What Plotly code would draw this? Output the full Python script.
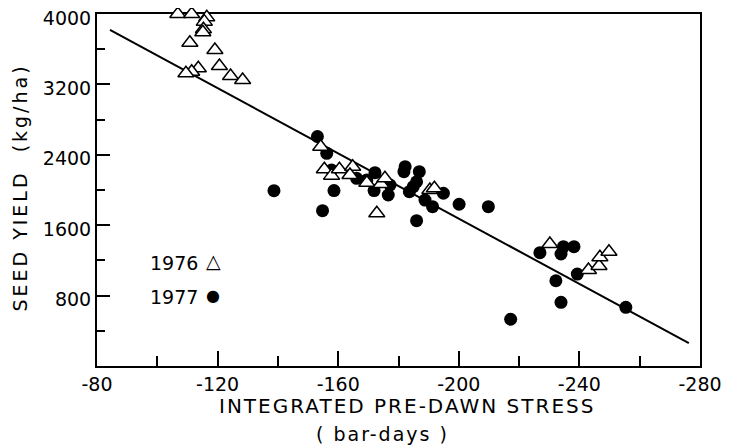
import plotly.graph_objects as go

# 1976 season (open triangles)
x1976 = [-106.8, -111.4, -116.4, -115.6, -115.3, -115.1, -110.8, -119.1, -120.6, -124.3,
         -128.3, -113.6, -111.4, -109.5,
         -154.2, -155.4, -157.8, -160.4, -164.8, -163.9, -169.5, -174.2, -175.5, -172.8,
         -190.4, -191.9,
         -230.2, -243.0, -246.5, -246.8, -249.8]
y1976 = [4000, 4000, 3962, 3913, 3826, 3792, 3674, 3591, 3409, 3295,
         3250, 3383, 3344, 3326,
         2492, 2235, 2163, 2235, 2265, 2170, 2083, 2068, 2133, 1735,
         2000, 2019,
         1386, 1091, 1136, 1235, 1299]

# 1977 season (filled circles)
x1977 = [-153.1, -156.2, -157.8, -158.6, -154.8, -138.7, -166.1, -169.5, -172.2, -171.9,
         -176.6, -177.2, -182.2, -181.8, -186.9, -186.0, -184.9, -183.6, -188.8, -191.3,
         -194.9, -200.1, -209.8, -186.0,
         -226.9, -234.7, -233.9, -238.2, -232.2, -239.3, -233.9, -217.2, -255.4]
y1977 = [2608, 2417, 2227, 1994, 1765, 1992, 2133, 2114, 2197, 1994,
         1943, 2057, 2265, 2208, 2208, 2094, 2038, 1981, 1886, 1810,
         1963, 1838, 1810, 1651,
         1288, 1356, 1273, 1356, 969, 1045, 724, 531, 667]

# regression line end points
line_x = [-84.3, -276.3]
line_y = [3820, 260]

x_ticks = [-80, -120, -160, -200, -240, -280]
x_ticktext = ["-80", "-120", "-160", "-200", "-240", "-280"]
y_ticks = [800, 1600, 2400, 3200, 4000]
y_ticktext = ["800", "1600", "2400", "3200", "4000"]

FONT = "DejaVu Sans"
LS = "<span style='letter-spacing:{}px'>{}</span>"

fig = go.Figure()
fig.add_trace(go.Scatter(x=line_x, y=line_y, mode="lines",
                         line=dict(color="black", width=2), showlegend=False,
                         hoverinfo="skip"))
fig.add_trace(go.Scatter(x=x1977, y=y1977, mode="markers", name="1977",
                         marker=dict(symbol="circle", size=13, color="black",
                                     line=dict(width=0)),
                         showlegend=False, cliponaxis=False))
fig.add_trace(go.Scatter(x=x1976, y=y1976, mode="markers", name="1976",
                         marker=dict(symbol="triangle-up", size=14, color="white",
                                     line=dict(color="black", width=1.5)),
                         showlegend=False, cliponaxis=False))

fig.update_layout(
    width=721, height=437,
    margin=dict(l=89, r=29, t=6, b=79, autoexpand=False),
    paper_bgcolor="white", plot_bgcolor="white",
    font=dict(family=FONT, size=19, color="black"),
    xaxis=dict(
        range=[-80, -280], automargin=False,
        tickmode="array", tickvals=x_ticks, ticktext=x_ticktext,
        ticks="inside", ticklen=15, tickwidth=1.5, tickcolor="black",
        minor=dict(ticks="inside", ticklen=10, tickwidth=1.5, tickcolor="black",
                   tickmode="array", tickvals=[-100, -140, -180, -220, -260]),
        showline=True, linecolor="black", linewidth=2, mirror=True,
        showgrid=False, zeroline=False, layer="below traces",
        ticklabelstandoff=0, ticklabeloverflow="allow",
    ),
    yaxis=dict(
        range=[0, 4000], automargin=False,
        tickmode="array", tickvals=y_ticks, ticktext=y_ticktext,
        ticks="inside", ticklen=13, tickwidth=1.5, tickcolor="black",
        minor=dict(ticks="inside", ticklen=8, tickwidth=1.5, tickcolor="black",
                   tickmode="array", tickvals=[400, 1200, 2000, 2800, 3600]),
        showline=True, linecolor="black", linewidth=2, mirror=True,
        showgrid=False, zeroline=False, layer="below traces",
        ticklabelstandoff=0, ticklabeloverflow="allow", ticklabelshift=4,
    ),
    annotations=[
        # axis titles
        dict(xref="paper", yref="paper", x=0.514, y=-0.1136, xanchor="center",
             yanchor="middle", showarrow=False, font=dict(size=20),
             text=LS.format(2, "INTEGRATED PRE-DAWN STRESS")),
        dict(xref="paper", yref="paper", x=0.474, y=-0.193, xanchor="center",
             yanchor="middle", showarrow=False, font=dict(size=19),
             text=LS.format(2, "( bar-days )")),
        dict(xref="paper", yref="paper", x=-0.127, y=0.508, xanchor="center",
             yanchor="middle", showarrow=False, font=dict(size=19), textangle=-90,
             text=LS.format(3, "SEED YIELD  (kg/ha)")),
        # legend
        dict(xref="paper", yref="paper", x=0.171, y=0.293, xanchor="right",
             yanchor="middle", text="1976", showarrow=False, font=dict(size=19)),
        dict(xref="paper", yref="paper", x=0.193, y=0.297, xanchor="center",
             yanchor="middle", text="△", showarrow=False, font=dict(size=19)),
        dict(xref="paper", yref="paper", x=0.171, y=0.196, xanchor="right",
             yanchor="middle", text="1977", showarrow=False, font=dict(size=19)),
        dict(xref="paper", yref="paper", x=0.193, y=0.199, xanchor="center",
             yanchor="middle", text="●", showarrow=False, font=dict(size=16)),
    ],
)

fig.write_html("out.html")
